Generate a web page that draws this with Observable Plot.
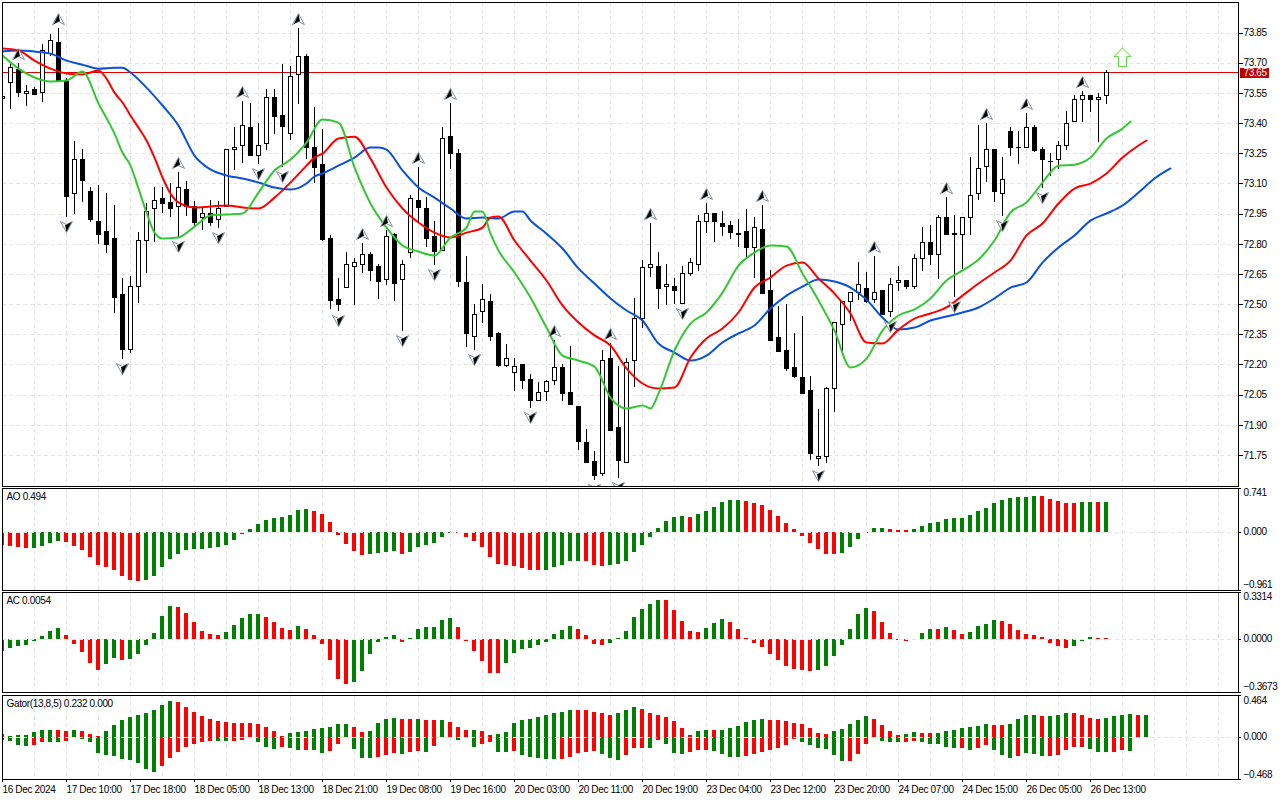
<!DOCTYPE html>
<html>
<head>
<meta charset="utf-8">
<script src="https://cdn.jsdelivr.net/npm/d3@7"></script>
<script src="https://cdn.jsdelivr.net/npm/@observablehq/plot@0.6"></script>
<style>
html,body{margin:0;padding:0;background:#fff;overflow:hidden}
#chart{position:relative;width:1280px;height:800px}
#chart svg{position:absolute;left:0;background:transparent}
</style>
</head>
<body>
<div id="chart"></div>
<script>
const open=[73.520,73.604,73.664,73.547,73.569,73.554,73.748,73.803,73.609,73.052,
73.221,73.062,72.913,72.863,72.824,72.550,72.277,72.590,72.814,72.973,
73.023,73.003,72.983,73.072,72.983,72.933,72.953,72.923,72.983,73.271,
73.291,73.380,73.241,73.301,73.529,73.440,73.350,73.644,73.733,73.281,
73.192,72.824,72.521,72.585,72.689,72.699,72.749,72.689,72.625,72.844,
72.625,72.759,73.013,72.973,72.834,72.769,73.331,73.251,72.610,72.337,
72.461,72.511,72.352,72.197,72.158,72.202,72.123,72.019,72.068,72.118,
72.183,72.063,71.989,71.810,71.720,71.656,72.232,71.889,71.715,72.222,
72.431,72.680,72.689,72.590,72.590,72.501,72.650,72.699,72.913,72.953,
72.903,72.893,72.853,72.863,72.784,72.873,72.570,72.332,72.272,72.183,
72.133,72.073,71.735,71.745,72.083,72.401,72.511,72.560,72.580,72.521,
72.570,72.461,72.610,72.620,72.590,72.729,72.804,72.749,72.933,72.853,
72.844,72.933,73.052,73.182,73.271,73.052,73.360,73.281,73.281,73.380,
73.271,73.211,73.221,73.291,73.410,73.519,73.539,73.519,73.539];
const high=[73.550,73.693,73.698,73.589,73.579,73.793,73.843,73.872,73.624,73.311,
73.271,73.082,73.092,73.052,72.993,72.630,72.640,72.858,73.003,73.082,
73.082,73.102,73.157,73.112,73.013,72.978,73.018,73.013,73.271,73.380,
73.510,73.500,73.400,73.569,73.569,73.693,73.683,73.872,73.743,73.480,
73.370,72.844,72.630,72.759,72.729,72.804,72.759,72.699,72.868,72.854,
72.719,73.042,73.182,73.032,72.913,73.380,73.500,73.271,72.739,72.501,
72.600,72.550,72.362,72.302,72.232,72.202,72.153,72.113,72.123,72.322,
72.202,72.292,71.989,71.880,71.770,72.272,72.307,72.192,72.232,72.531,
72.719,72.903,72.759,72.699,72.630,72.689,72.729,72.943,73.003,72.953,
72.963,72.913,72.923,72.973,72.933,72.993,72.670,72.491,72.501,72.357,
72.441,72.143,71.979,72.088,72.411,72.511,72.560,72.709,72.660,72.739,
72.570,72.630,72.689,72.620,72.749,72.883,72.893,72.943,73.032,72.943,
72.933,73.231,73.390,73.400,73.271,73.231,73.380,73.360,73.450,73.390,
73.281,73.251,73.311,73.460,73.539,73.559,73.539,73.549,73.664];
const low=[73.465,73.470,73.529,73.485,73.539,73.505,73.733,73.609,72.933,72.948,
73.008,72.908,72.799,72.754,72.456,72.227,72.257,72.505,72.655,72.809,
72.953,72.933,72.834,72.938,72.883,72.868,72.888,72.878,72.983,73.167,
73.201,73.241,73.196,73.266,73.345,73.182,73.316,73.495,73.221,73.102,
72.814,72.476,72.466,72.580,72.496,72.655,72.615,72.526,72.595,72.516,
72.366,72.729,72.908,72.784,72.694,72.769,73.172,72.585,72.287,72.272,
72.406,72.317,72.188,72.188,72.068,72.078,71.984,72.019,72.019,72.098,
72.019,71.999,71.775,71.715,71.626,71.646,71.874,71.636,71.710,72.088,
72.381,72.635,72.476,72.496,72.501,72.501,72.640,72.665,72.853,72.809,
72.839,72.824,72.784,72.734,72.630,72.555,72.317,72.262,72.168,72.133,
72.058,71.725,71.695,71.710,71.964,72.257,72.416,72.521,72.506,72.506,
72.446,72.436,72.565,72.575,72.575,72.665,72.694,72.625,72.844,72.535,
72.675,72.844,73.018,73.107,73.008,72.938,73.236,73.196,73.281,73.256,
73.077,73.137,73.172,73.266,73.410,73.405,73.455,73.306,73.495];
const close=[73.534,73.674,73.554,73.557,73.544,73.763,73.813,73.609,73.037,73.221,
73.117,72.923,72.848,72.799,72.535,72.277,72.590,72.814,72.963,73.013,
72.998,72.973,73.082,72.983,72.908,72.953,72.908,72.973,73.271,73.281,
73.390,73.241,73.291,73.529,73.435,73.385,73.634,73.733,73.281,73.177,
72.819,72.516,72.496,72.699,72.709,72.749,72.665,72.615,72.834,72.605,
72.699,73.023,72.978,72.824,72.764,73.321,73.251,72.615,72.352,72.451,
72.521,72.337,72.197,72.232,72.188,72.118,72.019,72.063,72.113,72.183,
72.058,71.999,71.815,71.715,71.646,72.222,71.874,71.725,72.212,72.431,
72.680,72.699,72.580,72.600,72.570,72.650,72.709,72.913,72.953,72.913,
72.888,72.858,72.848,72.784,72.883,72.555,72.317,72.267,72.178,72.138,
72.058,71.760,71.745,72.083,72.411,72.511,72.560,72.600,72.511,72.560,
72.451,72.600,72.620,72.590,72.729,72.804,72.749,72.933,72.844,72.844,
72.933,73.042,73.172,73.271,73.062,73.122,73.281,73.278,73.380,73.266,
73.221,73.209,73.291,73.400,73.519,73.539,73.519,73.529,73.654];

const fractalUp=[2,7,22,30,37,45,48,52,56,69,76,81,88,95,109,118,123,128,135];
const fractalDown=[8,15,22,27,32,35,42,50,54,59,66,74,77,85,102,111,119,125,130];

const lipsBars=[0,2,4,6,8,10,12,14,15,16,17,18,19,20,22,24,26,28,30,32,34,36,38,40,42,44,46,48,50,52,54,56,58,59,60,61,62,64,66,68,70,72,74,76,78,80,81,82,84,86,88,90,92,94,96,98,100,102,104,106,108,110,112,114,116,118,120,122,124,126,128,130,132,134,136,138,140,141];
const lipsPrice=[73.738,73.673,73.629,73.609,73.614,73.659,73.500,73.350,73.256,73.191,73.077,72.958,72.858,72.829,72.834,72.888,72.943,72.948,72.953,73.057,73.167,73.221,73.306,73.420,73.405,73.182,73.003,72.883,72.794,72.764,72.744,72.834,72.883,72.963,72.963,72.853,72.769,72.660,72.535,72.386,72.247,72.222,72.192,72.038,71.984,71.999,71.984,72.058,72.272,72.406,72.461,72.560,72.694,72.759,72.794,72.789,72.655,72.521,72.371,72.188,72.232,72.371,72.446,72.476,72.531,72.620,72.670,72.724,72.819,72.958,73.008,73.107,73.191,73.196,73.231,73.326,73.375,73.410];
const teethBars=[0,2,4,6,8,10,12,13,14,15,16,17,18,19,20,21,22,24,26,28,30,32,34,36,38,39,40,42,44,46,48,50,52,54,56,58,60,61,62,64,66,68,70,72,74,76,78,80,82,84,86,88,90,92,94,96,98,100,102,104,106,108,110,112,114,116,118,120,122,124,126,128,130,132,134,136,138,140,142,143];
const teethPrice=[73.773,73.763,73.713,73.673,73.649,73.644,73.664,73.624,73.554,73.505,73.440,73.380,73.316,73.231,73.132,73.052,73.008,72.983,72.988,72.993,72.983,72.978,73.032,73.107,73.191,73.231,73.251,73.326,73.335,73.226,73.082,72.978,72.908,72.858,72.834,72.858,72.883,72.933,72.938,72.819,72.719,72.620,72.496,72.411,72.347,72.297,72.183,72.108,72.083,72.088,72.237,72.332,72.381,72.461,72.585,72.635,72.694,72.709,72.630,72.555,72.456,72.312,72.307,72.376,72.431,72.456,72.486,72.545,72.605,72.660,72.719,72.844,72.903,73.003,73.077,73.102,73.152,73.231,73.291,73.316];
const jawsBars=[0,2,4,6,8,10,12,14,15,16,18,20,22,24,26,28,30,32,34,36,38,39,40,42,44,46,47,48,50,52,54,56,58,60,62,64,65,66,68,70,72,74,76,78,80,82,84,86,88,90,92,94,96,98,100,102,104,106,108,110,112,114,116,118,120,122,124,126,128,130,132,134,136,138,140,142,144,146];
const jawsPrice=[73.758,73.763,73.758,73.748,73.713,73.693,73.673,73.678,73.678,73.654,73.579,73.490,73.390,73.241,73.172,73.142,73.127,73.107,73.082,73.072,73.102,73.137,73.152,73.191,73.231,73.281,73.281,73.271,73.167,73.082,73.032,72.978,72.928,72.933,72.928,72.963,72.963,72.918,72.853,72.779,72.680,72.605,72.531,72.471,72.421,72.307,72.262,72.222,72.247,72.312,72.357,72.396,72.481,72.545,72.590,72.625,72.615,72.585,72.525,72.436,72.376,72.386,72.421,72.441,72.461,72.486,72.531,72.585,72.610,72.709,72.784,72.844,72.918,72.953,72.993,73.057,73.127,73.177];

const ao=[-.213,-.229,-.246,-.257,-.263,-.229,-.179,-.145,-.162,-.229,-.296,-.414,-.548,-.582,-.632,-.733,-.800,-.817,-.800,-.733,-.582,-.447,-.364,-.296,-.280,-.280,-.263,-.246,-.213,-.129,-.028,.056,.140,.207,.240,.257,.291,.375,.391,.358,.308,.173,-.045,-.196,-.313,-.380,-.364,-.347,-.330,-.313,-.364,-.330,-.246,-.213,-.179,-.078,-.011,-.011,-.078,-.145,-.246,-.414,-.531,-.548,-.565,-.598,-.632,-.632,-.632,-.582,-.548,-.481,-.481,-.481,-.548,-.565,-.548,-.531,-.481,-.330,-.213,-.078,.073,.190,.257,.274,.257,.308,.358,.425,.509,.542,.542,.526,.492,.459,.375,.274,.157,.056,-.062,-.179,-.280,-.364,-.364,-.347,-.246,-.112,-.008,.073,.073,.056,.039,.039,.056,.106,.157,.173,.224,.240,.240,.291,.358,.408,.492,.542,.576,.593,.593,.610,.610,.559,.526,.492,.492,.509,.509,.509,.509];
const aoDir="rrrrggggrrrrrrrrrrgggggggggggggggggggggrrrrrrrggggrggggggrrrrrrrrrrrgggggrrrggggggggggrggggggrrrrrrrrrrrrggggggrrrggggggggggggggggrrrrrggrg".split("");
const aoTicks=[0.741,0,-0.961];
const ac=[-.080,-.061,-.047,-.040,-.012,.024,.059,.080,.031,-.033,-.089,-.167,-.216,-.174,-.132,-.146,-.139,-.104,-.040,.045,.165,.235,.228,.186,.122,.059,.038,.031,.052,.101,.151,.179,.179,.158,.122,.080,.066,.094,.073,.031,-.033,-.146,-.273,-.308,-.294,-.224,-.104,-.019,.016,.031,-.019,.009,.073,.087,.087,.136,.151,.087,-.012,-.082,-.153,-.238,-.238,-.167,-.096,-.068,-.061,-.040,-.019,.038,.066,.094,.073,.031,-.033,-.040,-.026,.009,.059,.158,.214,.249,.278,.278,.207,.129,.059,.052,.080,.115,.144,.122,.073,.009,-.026,-.054,-.104,-.146,-.188,-.209,-.216,-.224,-.216,-.188,-.118,-.040,.073,.179,.221,.200,.122,.045,-.002,-.012,-.005,.045,.073,.073,.087,.066,.038,.052,.094,.108,.136,.129,.108,.066,.038,.031,.016,-.026,-.047,-.061,-.047,-.012,.016,.007,.007];
const acDir="ggggggggrrrrrggrggggggrrrrrrgggggrrrrgrrrrrrggggggrggggggrrrrrrgggggggggrrrrgggggggrrrrrgggrrrrrrrrrrrgggggggrrrrrgggrgrrggggrrrrrrrrrgggrr".split("");
const acTicks=[0.3314,0,-0.3673];
const gatorUp=[.026,.004,.015,.015,.049,.071,.071,.071,.060,.071,.060,.026,.004,.060,.127,.183,.216,.239,.261,.295,.351,.396,.384,.328,.272,.228,.194,.172,.160,.149,.149,.149,.138,.104,.060,.004,.037,.049,.060,.082,.093,.104,.138,.138,.104,.049,.060,.149,.194,.205,.194,.194,.194,.183,.183,.183,.160,.104,.071,.071,.060,.015,.026,.049,.149,.183,.194,.216,.239,.261,.272,.295,.295,.295,.272,.261,.239,.261,.295,.328,.306,.261,.239,.216,.172,.093,.015,.060,.071,.071,.071,.093,.116,.160,.183,.194,.183,.183,.172,.149,.138,.093,.037,.026,.060,.082,.138,.183,.228,.194,.127,.060,.015,.026,.049,.037,.037,.037,.060,.071,.093,.104,.116,.138,.127,.127,.138,.194,.239,.239,.228,.228,.239,.261,.261,.239,.205,.194,.205,.228,.239,.250,.239,.239];
const gatorUpDir="rggggggrrgrrrgggggggggrrrrrrrrrrrrrrggggggggrrggggrrgrrgrrrgrrggggggggggrrrrrgggrrrrrrrggrggggggrrrrrrrrgggggrrrrggrrgggggggrrggggrgggrrrrggggrg".split("");
const gatorDown=[-.030,-.041,-.086,-.097,-.086,-.063,-.063,-.063,-.041,-.007,-.019,-.063,-.175,-.198,-.209,-.243,-.254,-.287,-.354,-.388,-.321,-.231,-.164,-.108,-.075,-.052,-.041,-.041,-.041,-.041,-.030,-.007,-.063,-.108,-.131,-.108,-.119,-.142,-.142,-.142,-.175,-.153,-.075,-.007,-.131,-.231,-.231,-.220,-.198,-.175,-.187,-.164,-.153,-.164,-.097,-.002,-.007,-.030,-.007,-.108,-.075,-.063,-.164,-.164,-.153,-.198,-.220,-.231,-.243,-.243,-.243,-.220,-.175,-.164,-.153,-.187,-.231,-.254,-.198,-.119,-.119,-.119,-.030,-.075,-.175,-.187,-.164,-.142,-.142,-.153,-.187,-.220,-.220,-.209,-.187,-.164,-.142,-.119,-.086,-.019,-.052,-.086,-.119,-.131,-.198,-.265,-.265,-.187,-.075,-.001,-.041,-.063,-.063,-.052,-.041,-.063,-.075,-.075,-.108,-.119,-.119,-.142,-.119,-.086,-.142,-.198,-.231,-.209,-.175,-.187,-.209,-.209,-.198,-.142,-.108,-.108,-.131,-.164,-.164,-.164,-.142,-.153,-.001,-.007];
const gatorDownDir="rgggrrggrrggggggggggrrrrrrrggrrrgggrggrggrrrgggrrrgrrgrrrgggrrggrgggggrrrrrgggrrrgrgggrrrggggrrrrrrrggggggrrrrgggrrgggggrgrrgggrgggrrrrrgggrrgrr".split("");
const gatorTicks=[0.464,0,-0.468];

const priceTicks=[73.85,73.70,73.55,73.40,73.25,73.10,72.95,72.80,72.65,72.50,72.35,72.20,72.05,71.90,71.75];
const lastPrice=73.654;
const lastLabel="73.65";
const signalBar=[140];
const signalPrice=[73.728];
const gridBars=d3.range(4,153,4);
const timeBars=[0,8,16,24,32,40,48,56,64,72,80,88,96,104,112,120,128,136];
const timeLabels=["16 Dec 2024","17 Dec 10:00","17 Dec 18:00","18 Dec 05:00","18 Dec 13:00","18 Dec 21:00","19 Dec 08:00","19 Dec 16:00","20 Dec 03:00","20 Dec 11:00","20 Dec 19:00","23 Dec 04:00","23 Dec 12:00","23 Dec 20:00","24 Dec 07:00","24 Dec 15:00","26 Dec 05:00","26 Dec 13:00"];
const aoTitle="AO 0.494", acTitle="AC 0.0054", gatorTitle="Gator(13,8,5) 0.232 0.000";

const XMAX=154.5, GRID="#e4e4e4", DASH="4,3", GREEN="#008000", RED="#ff0000";
const FONT={fontFamily:"'Liberation Sans',Arial,sans-serif",fontSize:"10px",letterSpacing:"-0.35px",background:"transparent",color:"#000"};
const hw=0.25;
const candles=open.map((o,i)=>({i,open:o,high:high[i],low:low[i],close:close[i]}));

function poly(pts){return {draw(c){pts.forEach((p,k)=>k?c.lineTo(p[0],p[1]):c.moveTo(p[0],p[1]));c.closePath();}};}
const flip=a=>a.map(([x,y])=>[-x,-y]);
const outlinePts=[[0,-6],[6,5],[0,2],[-6,5]];
const corePts=[[0,-5.5],[1.5,1.5],[0,1.8],[-5,4.5]];
const signalSym=poly([[0,-9.5],[8.5,-1],[4,-1],[4,9],[-4,9],[-4,-1],[-8.5,-1]]);

const baseMarks=()=>[Plot.ruleX(gridBars,{stroke:GRID,strokeDasharray:DASH,shapeRendering:"crispEdges"})];

function place(svg,top){svg.style.top=top+"px";document.getElementById("chart").appendChild(svg);}

function fractalMarks(idx,values,pts,dy){
  return [
    Plot.dot(idx,{x:d=>d,y:d=>values[d],symbol:poly(pts),r:6,fill:"#fff",stroke:"#7f8fa0",strokeWidth:1,dy,clip:true}),
    Plot.dot(idx,{x:d=>d,y:d=>values[d],symbol:poly(pts===outlinePts?corePts:flip(corePts)),r:6,fill:"#000",stroke:"none",dy,clip:true})
  ];
}

// main price pane
place(Plot.plot({
  width:1280,height:487,marginTop:2,marginBottom:1,marginLeft:2,marginRight:42,
  style:FONT,
  color:{type:"identity"},
  x:{domain:[0,XMAX],axis:null},
  y:{domain:[71.596,74.002],axis:null},
  marks:[
    ...baseMarks(),
    Plot.ruleY(priceTicks,{stroke:GRID,strokeDasharray:DASH,shapeRendering:"crispEdges"}),
    Plot.ruleY([lastPrice],{stroke:"#e00000",shapeRendering:"crispEdges"}),
    Plot.ruleX(candles,{x:"i",y1:"low",y2:"high",stroke:"#000",shapeRendering:"crispEdges",clip:true}),
    Plot.rect(candles,{x1:d=>d.i-hw,x2:d=>d.i+hw,y1:"open",y2:"close",fill:d=>d.close>=d.open?"#fff":"#000",stroke:"#000",dx:0.5,shapeRendering:"crispEdges",clip:true}),
    Plot.line(jawsPrice,{x:jawsBars,y:jawsPrice,stroke:"#0a50d8",strokeWidth:2,curve:"monotone-x",clip:true}),
    Plot.line(teethPrice,{x:teethBars,y:teethPrice,stroke:RED,strokeWidth:2,curve:"monotone-x",clip:true}),
    Plot.line(lipsPrice,{x:lipsBars,y:lipsPrice,stroke:"#33c833",strokeWidth:2,curve:"monotone-x",clip:true}),
    ...fractalMarks(fractalUp,high,outlinePts,-9),
    ...fractalMarks(fractalDown,low,flip(outlinePts),9),
    Plot.dot(signalPrice,{x:signalBar,y:signalPrice,symbol:signalSym,r:8,fill:"#fff",stroke:"#5ed63c",strokeWidth:1}),
    Plot.frame({stroke:"#000",shapeRendering:"crispEdges"}),
    Plot.axisY(priceTicks,{anchor:"right",tickSize:4,tickPadding:1,tickFormat:d3.format(".2f"),shapeRendering:"crispEdges"}),
    Plot.ruleY([lastPrice],{x1:XMAX+0.25,x2:XMAX+3.9,stroke:"#c00000",strokeWidth:10,shapeRendering:"crispEdges"}),
    Plot.text([lastLabel],{y:[lastPrice],frameAnchor:"right",dx:5,textAnchor:"start",fill:"#fff"})
  ]
}),0);

// oscillator panes
function oscillator({top,height,values,dirs,title,ticks,fmt,domain}){
  const rows=values.map((v,i)=>({i,v,d:dirs[i]}));
  return place(Plot.plot({
    width:1280,height,marginTop:0,marginBottom:1,marginLeft:2,marginRight:42,
    style:FONT,
    color:{type:"identity"},
    x:{domain:[0,XMAX],axis:null},
    y:{domain,axis:null},
    marks:[
      ...baseMarks(),
      Plot.rect(rows,{x1:d=>d.i-hw,x2:d=>d.i+hw,y1:0,y2:"v",fill:d=>d.d==="g"?GREEN:RED,shapeRendering:"crispEdges",clip:true}),
      Plot.ruleY([0],{stroke:GRID,strokeDasharray:DASH,shapeRendering:"crispEdges"}),
      Plot.frame({stroke:"#000",shapeRendering:"crispEdges"}),
      Plot.ruleY(ticks,{x1:XMAX,x2:XMAX+0.4,stroke:"#000",shapeRendering:"crispEdges"}),
      Plot.text([fmt(ticks[0])],{y:[ticks[0]],frameAnchor:"right",dx:5,dy:4.5,textAnchor:"start"}),
      Plot.text([fmt(ticks[1])],{y:[ticks[1]],frameAnchor:"right",dx:5,dy:-1,textAnchor:"start"}),
      Plot.text([fmt(ticks[2])],{y:[ticks[2]],frameAnchor:"right",dx:5,dy:-5.5,textAnchor:"start"}),
      Plot.text([title],{frameAnchor:"top-left",dx:4,dy:4,textAnchor:"start",lineAnchor:"top"})
    ]
  }),top);
}
oscillator({top:488,height:103,values:ao,dirs:aoDir,title:aoTitle,ticks:aoTicks,fmt:d3.format(".3f"),domain:[-0.961,0.741]});
oscillator({top:592,height:101,values:ac,dirs:acDir,title:acTitle,ticks:acTicks,fmt:d3.format(".4f"),domain:[-0.3673,0.3314]});

// gator pane with the time axis
const upRows=gatorUp.map((v,i)=>({i,v,d:gatorUpDir[i]}));
const downRows=gatorDown.map((v,i)=>({i,v,d:gatorDownDir[i]}));
place(Plot.plot({
  width:1280,height:105,marginTop:0,marginBottom:21,marginLeft:2,marginRight:42,
  style:FONT,
  color:{type:"identity"},
  x:{domain:[0,XMAX],axis:null},
  y:{domain:[-0.468,0.464],axis:null},
  marks:[
    ...baseMarks(),
    Plot.rect(upRows,{x1:d=>d.i-hw,x2:d=>d.i+hw,y1:0,y2:"v",fill:d=>d.d==="g"?GREEN:RED,shapeRendering:"crispEdges",clip:true}),
    Plot.rect(downRows,{x1:d=>d.i-hw,x2:d=>d.i+hw,y1:0,y2:"v",fill:d=>d.d==="g"?GREEN:RED,shapeRendering:"crispEdges",clip:true}),
    Plot.ruleY([0],{stroke:GRID,strokeDasharray:DASH,shapeRendering:"crispEdges"}),
    Plot.frame({stroke:"#000",shapeRendering:"crispEdges"}),
    Plot.ruleY(gatorTicks,{x1:XMAX,x2:XMAX+0.4,stroke:"#000",shapeRendering:"crispEdges"}),
    Plot.text([d3.format(".3f")(gatorTicks[0])],{y:[gatorTicks[0]],frameAnchor:"right",dx:5,dy:5,textAnchor:"start"}),
    Plot.text([d3.format(".3f")(gatorTicks[1])],{y:[gatorTicks[1]],frameAnchor:"right",dx:5,dy:-1,textAnchor:"start"}),
    Plot.text([d3.format(".3f")(gatorTicks[2])],{y:[gatorTicks[2]],frameAnchor:"right",dx:5,dy:-5,textAnchor:"start"}),
    Plot.text([gatorTitle],{frameAnchor:"top-left",dx:4,dy:4,textAnchor:"start",lineAnchor:"top"}),
    Plot.axisX(timeBars,{anchor:"bottom",tickSize:3,tickPadding:3,textAnchor:"start",tickFormat:d=>timeLabels[timeBars.indexOf(d)],shapeRendering:"crispEdges"})
  ]
}),695);
</script>
</body>
</html>
